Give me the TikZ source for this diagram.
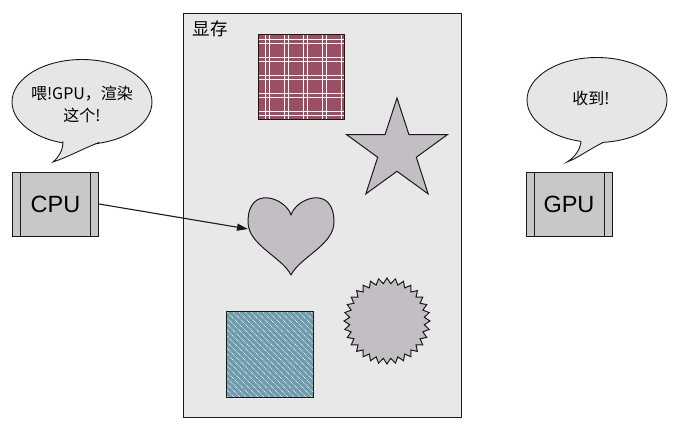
\documentclass[tikz,border=0pt]{standalone}
\usepackage{fontspec}
\setmainfont{Liberation Sans}
\newfontfamily\cjk{Noto Sans CJK SC}
\usetikzlibrary{arrows.meta,shapes.geometric}
\definecolor{cLine}{HTML}{1A1A1A}
\definecolor{cMemBg}{HTML}{E8E8E8}
\definecolor{cBubble}{HTML}{E6E6E6}
\definecolor{cChip}{HTML}{C8C8C8}
\definecolor{cShape}{HTML}{C3BEC3}
\definecolor{cPlaid}{HTML}{9C4F63}
\definecolor{cHatch}{HTML}{6F9CAC}
\tikzset{
  memBox/.style={draw=cLine, fill=cMemBg, line width=1.2pt, inner sep=0pt,
                 minimum width=278pt, minimum height=404pt},
  chip/.style={draw=cLine, fill=cChip, line width=1pt, inner sep=0pt,
               minimum width=86pt, minimum height=64pt,
               font=\fontsize{23.5}{26}\selectfont,
               path picture={
                 \draw[cLine, line width=1pt]
                   ([xshift=8pt]path picture bounding box.north west) --
                   ([xshift=8pt]path picture bounding box.south west)
                   ([xshift=-8pt]path picture bounding box.north east) --
                   ([xshift=-8pt]path picture bounding box.south east);}},
  bubble/.style={ellipse, draw=cLine, fill=cBubble, line width=0.9pt, inner sep=0pt,
                 minimum width=140pt, minimum height=85pt},
  tail/.style={draw=cLine, line width=0.9pt, line cap=round},
  sayText/.style={font=\cjk\fontsize{16}{22}\selectfont, align=center},
  shapeFill/.style={draw=cLine, fill=cShape, line width=1pt},
  patchEdge/.style={draw=cLine, line width=1pt},
}

\begin{document}
\begin{tikzpicture}[x=1pt, y=-1pt]
\useasboundingbox (0,0) rectangle (678,431);

% ========== MEMORY ==========
\node[memBox, anchor=north west] (vram) at (183,13) {};
\node[font=\cjk\fontsize{17.5}{17.5}\selectfont] (vramLbl) at (210,29) {显存};

% plaid texture
\begin{scope}
  \clip (258,34) rectangle (344,119);
  \fill[cPlaid] (258,34) rectangle (344,119);
  \foreach \p in {0,19,...,76} {
    \draw[white, line width=0.8pt] (265+\p,34) -- (265+\p,119);
    \draw[white, line width=0.8pt] (269+\p,34) -- (269+\p,119);
  }
  \foreach \p in {0,18,...,72} {
    \draw[white, line width=0.8pt] (258,39+\p) -- (344,39+\p);
    \draw[white, line width=0.8pt] (258,43.5+\p) -- (344,43.5+\p);
  }
\end{scope}
\draw[patchEdge] (258,34) rectangle (344,119);

% star
\begin{scope}[shift={(397,151)}, x=1pt, y=1pt]
  \draw[shapeFill] (90:53)
    \foreach \i in {1,...,9} { -- ({90+36*\i}:{ifthenelse(isodd(\i),20.3,53)}) } -- cycle;
\end{scope}

% heart
\draw[shapeFill, line join=round] (291,215)
  .. controls (296,198) and (334,184) .. (334,222)
  .. controls (334,245) and (300,257) .. (291,275)
  .. controls (282,257) and (248,245) .. (248,222)
  .. controls (248,184) and (286,198) .. (291,215) -- cycle;
\coordinate (heartL) at (248,229);

% burst
\begin{scope}[shift={(387,321)}, x=1pt, y=1pt]
  \draw[shapeFill] (0:43)
    \foreach \i in {1,...,63} { -- ({5.625*\i}:{ifthenelse(isodd(\i),37.5,43)}) } -- cycle;
\end{scope}

% hatched texture
\begin{scope}
  \clip (226,311) rectangle (313,397);
  \fill[cHatch] (226,311) rectangle (313,397);
  \foreach \k in {-90,-84,...,90}
    \draw[white, line width=0.6pt, dash pattern=on 1pt off 0.8pt] (226+\k,311) -- ++(90,90);
\end{scope}
\draw[patchEdge] (226,311) rectangle (313,397);

% ========== CPU / GPU ==========
\node[chip] (cpu) at (55.5,204) {CPU};
\node[chip] (gpu) at (569,204) {GPU};

\draw[cLine, line width=1.1pt, -{Triangle[length=11pt,width=7pt]}] (cpu.east) -- (heartL);

% speech bubbles
\node[bubble] (cpuSay) at (82,102) {};
\fill[cBubble] (63,141) .. controls (63,150) and (59,157) .. (53,162)
  .. controls (68,157) and (80,150) .. (99,142) -- (82,120) -- cycle;
\draw[tail] (63,141.5) .. controls (63,150) and (59,157) .. (53,162)
  .. controls (68,157) and (80,150) .. (99,142.5);
\node[sayText] (cpuTxt) at (82,104) {喂!GPU，渲染\\这个!};

\node[bubble] (gpuSay) at (597,100) {};
\fill[cBubble] (581,141) .. controls (580,150) and (575,157) .. (567,162)
  .. controls (578,158) and (588,150) .. (603,142) -- (597,120) -- cycle;
\draw[tail] (581,141.5) .. controls (580,150) and (575,157) .. (567,162)
  .. controls (578,158) and (588,150) .. (603,142.5);
\node[sayText] (gpuTxt) at (591,98) {收到!};

\end{tikzpicture}
\end{document}
